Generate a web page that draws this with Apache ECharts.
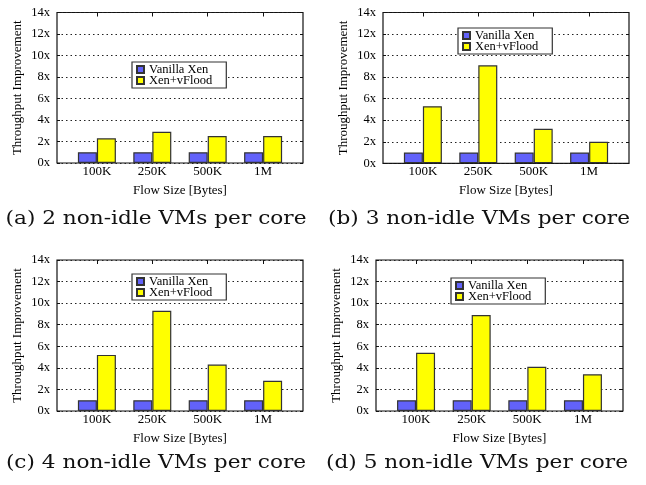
<!DOCTYPE html>
<html>
<head>
<meta charset="utf-8">
<script src="https://cdn.jsdelivr.net/npm/echarts@6/dist/echarts.min.js"></script>
<style>
  html, body { margin: 0; padding: 0; background: #fff; }
  #chart { width: 646px; height: 485px; }
</style>
</head>
<body>
<div id="chart"></div>
<script>
// ---- data ----
const categories = ['100K', '250K', '500K', '1M'];
const seriesNames = ['Vanilla Xen', 'Xen+vFlood'];
const vanillaA = [1, 1, 1, 1];
const vfloodA  = [2.3, 2.9, 2.5, 2.5];
const vanillaB = [1, 1, 1, 1];
const vfloodB  = [5.3, 9.1, 3.2, 2.0];
const vanillaC = [1, 1, 1, 1];
const vfloodC  = [5.2, 9.3, 4.3, 2.8];
const vanillaD = [1, 1, 1, 1];
const vfloodD  = [5.4, 8.9, 4.1, 3.4];
const yTickValues = [0, 2, 4, 6, 8, 10, 12, 14];
const yAxisName = 'Throughput Improvement';
const xAxisName = 'Flow Size [Bytes]';
const captions = [
  '(a) 2 non-idle VMs per core',
  '(b) 3 non-idle VMs per core',
  '(c) 4 non-idle VMs per core',
  '(d) 5 non-idle VMs per core'
];

// ---- layout (styles/positions) ----
const panels = [
  { left: 57,  top: 12.5, width: 246, height: 150.5, vanilla: vanillaA, vflood: vfloodA,
    legend: { left: 132, top: 62 },  caption: { x: 156, y: 219 } },
  { left: 383, top: 12.5, width: 246, height: 150.8, vanilla: vanillaB, vflood: vfloodB,
    legend: { left: 458, top: 28 },  caption: { x: 479, y: 219 } },
  { left: 57,  top: 260, width: 246, height: 151, vanilla: vanillaC, vflood: vfloodC,
    legend: { left: 132, top: 274 }, caption: { x: 156, y: 463 } },
  { left: 376, top: 260, width: 247, height: 151, vanilla: vanillaD, vflood: vfloodD,
    legend: { left: 451, top: 278 }, caption: { x: 477, y: 463 } }
];

const serif = 'Liberation Serif';
const catIdx = categories.map((c, i) => i);
const colors = ['#6262fa', '#ffff00'];

const grid = [], xAxis = [], yAxis = [], series = [], legend = [], graphic = [];

panels.forEach((p, k) => {
  grid.push({ left: p.left, top: p.top, width: p.width, height: p.height,
    show: true, borderColor: '#111', borderWidth: 1.2, backgroundColor: 'transparent' });

  // bottom x axis with category labels
  xAxis.push({
    type: 'value', gridIndex: k, min: -0.72, max: 3.72, position: 'bottom',
    axisLine: { show: false, onZero: false }, splitLine: { show: false },
    axisTick: { show: false },
    axisLabel: {
      customValues: catIdx, margin: 2, color: '#000', fontFamily: serif, fontSize: 13,
      formatter: v => categories[Math.round(v)]
    },
    name: xAxisName, nameLocation: 'middle', nameGap: 21,
    nameTextStyle: { fontFamily: serif, fontSize: 13, color: '#000' }
  });
  // top x axis: mirrored ticks only
  xAxis.push({
    type: 'value', gridIndex: k, min: -0.72, max: 3.72, position: 'top',
    axisLine: { show: false, onZero: false }, splitLine: { show: false },
    axisTick: { show: true, inside: true, length: 4, customValues: catIdx,
      lineStyle: { color: '#111', width: 1 } },
    axisLabel: { show: false }
  });
  // left y axis
  yAxis.push({
    type: 'value', gridIndex: k, min: 0, max: 14, interval: 2, position: 'left',
    axisLine: { show: false, onZero: false },
    axisTick: { show: true, inside: true, length: 3, lineStyle: { color: '#111' } },
    axisLabel: { margin: 7, color: '#000', fontFamily: serif, fontSize: 12.5,
      customValues: yTickValues, formatter: v => v + 'x' },
    splitLine: { show: true, lineStyle: { color: '#222', type: [1.5, 3], width: 1 } },
    name: yAxisName, nameLocation: 'middle', nameGap: 33, nameRotate: 90,
    nameTextStyle: { fontFamily: serif, fontSize: 13, color: '#000' }
  });
  // right y axis: mirrored ticks
  yAxis.push({
    type: 'value', gridIndex: k, min: 0, max: 14, interval: 2, position: 'right',
    axisLine: { show: false, onZero: false },
    axisTick: { show: true, inside: true, length: 3, lineStyle: { color: '#111' } },
    axisLabel: { show: false }, splitLine: { show: false }
  });

  [p.vanilla, p.vflood].forEach((vals, s) => {
    series.push({
      type: 'bar', name: seriesNames[s],
      xAxisIndex: 2 * k, yAxisIndex: 2 * k,
      data: vals.map((v, i) => [catIdx[i], v]),
      barWidth: 19, barGap: '0%',
      itemStyle: { color: colors[s], borderColor: '#333', borderWidth: 1.2 },
      emphasis: { disabled: true },
      animation: false
    });
  });

  legend.push({
    orient: 'vertical', left: p.legend.left, top: p.legend.top,
    data: seriesNames, icon: 'rect', itemWidth: 7, itemHeight: 7, itemGap: -2,
    padding: [1, 14, 1, 4], backgroundColor: '#fff',
    borderColor: '#333', borderWidth: 1.2, borderRadius: 0,
    textStyle: { fontFamily: serif, fontSize: 12.5, color: '#000', lineHeight: 10, padding: 0 },
    selectedMode: false
  });

  graphic.push({
    type: 'text', x: p.caption.x, y: p.caption.y, scaleX: 1.17,
    style: { text: captions[k], fontFamily: 'DejaVu Serif', fontSize: 18.5,
      fill: '#111', textAlign: 'center', textVerticalAlign: 'middle' }
  });
});

const chart = echarts.init(document.getElementById('chart'), null, { renderer: 'canvas' });
chart.setOption({
  animation: false,
  backgroundColor: '#fff',
  grid, xAxis, yAxis, series, legend, graphic
});
</script>
</body>
</html>
